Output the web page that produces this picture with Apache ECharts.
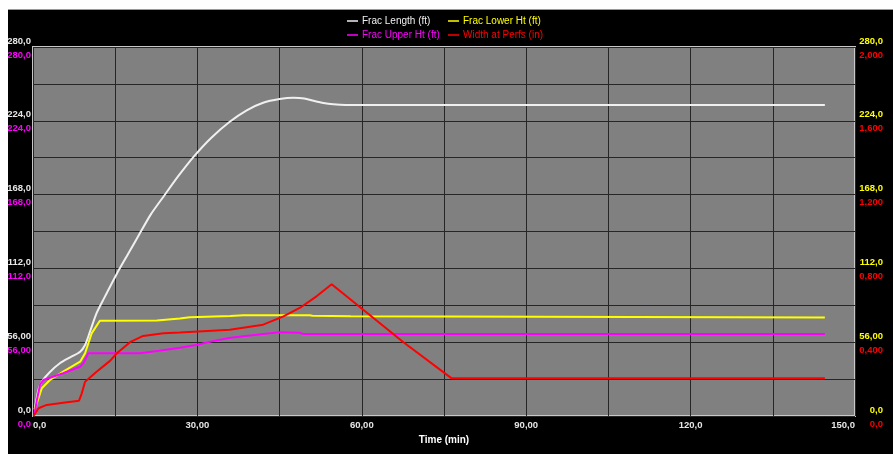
<!DOCTYPE html>
<html>
<head>
<meta charset="utf-8">
<script src="https://cdn.jsdelivr.net/npm/echarts@6/dist/echarts.min.js"></script>
<style>
html,body{margin:0;padding:0;background:#ffffff;width:893px;height:454px;overflow:hidden;}
#topline{position:absolute;left:8px;top:9px;width:885px;height:1px;background:#9a9a9a;}
#chart{position:absolute;left:8px;top:10px;width:885px;height:444px;background:#000000;}
</style>
</head>
<body>
<div id="topline"></div>
<div id="chart"></div>
<script>
// ---- Data ----
const seriesNames = ['Frac Length (ft)', 'Frac Lower Ht (ft)', 'Frac Upper Ht (ft)', 'Width at Perfs (in)'];

const fracLengthT = [0.3, 1.0, 1.6, 3.0, 4.9, 7.0, 8.6, 9.5, 10.4, 11.6, 12.8, 15.3, 17.5, 19.5, 21.5, 23.8, 26.5, 29.3, 32.5, 35.9, 39.0, 42.0, 45.0, 47.5, 49.5, 51.2, 53.0, 54.8, 57.0, 59.7, 144.5];
const fracLengthV = [5, 20, 26, 33, 40, 45, 48.8, 53.9, 64, 78, 88, 108, 124, 138.6, 153, 166.4, 182, 196.7, 211, 223.3, 232, 237.7, 240.5, 241.5, 241, 239.2, 237.5, 236.5, 236, 236, 236];

const fracLowerT = [0.3, 1.6, 3.1, 5.5, 8.6, 9.5, 10.7, 12.2, 22.6, 26.8, 28.6, 36.0, 38.4, 50.5, 51.0, 58.0, 58.3, 144.5];
const fracLowerV = [5, 21, 27.3, 33.6, 41.2, 47.6, 62.7, 72.3, 72.5, 74, 74.9, 75.9, 76.5, 76.5, 76, 75.6, 74.8, 74.8];

const fracUpperT = [0.3, 0.7, 1.3, 1.9, 5.5, 8.6, 9.2, 10.1, 19.5, 23.0, 26.8, 30.0, 33.0, 36.0, 42.0, 45.0, 48.7, 49.2, 144.5];
const fracUpperV = [2, 12, 24, 27.3, 32.4, 37.4, 40, 47.6, 47.6, 49.5, 51.8, 54, 57, 59.4, 62.2, 63.5, 63.2, 62.3, 62.3];

const widthT = [0.1, 1.0, 2.5, 5.5, 8.4, 8.9, 9.5, 11.6, 14.1, 15.3, 17.7, 20.1, 23.8, 26.8, 31.0, 35.9, 42.0, 45.7, 49.0, 51.8, 54.5, 67.6, 76.4, 144.5];
const widthV = [0.0, 0.042, 0.06, 0.072, 0.083, 0.123, 0.186, 0.24, 0.30, 0.34, 0.40, 0.434, 0.448, 0.452, 0.46, 0.468, 0.495, 0.54, 0.592, 0.65, 0.714, 0.40, 0.204, 0.204];

const xTickValues = [0, 30, 60, 90, 120, 150];
const xTickLabels = ['0,0', '30,00', '60,00', '90,00', '120,0', '150,0'];
const ftTickValues = [0, 56, 112, 168, 224, 280];
const ftTickLabels = ['0,0', '56,00', '112,0', '168,0', '224,0', '280,0'];
const widthTickValues = [0, 0.4, 0.8, 1.2, 1.6, 2.0];
const widthTickLabels = ['0,0', '0,400', '0,800', '1,200', '1,600', '2,000'];

// ---- Build ----
const pairs = (t, v) => t.map((x, i) => [x, v[i]]);
function tickFmt(values, labels) {
  return function (v) {
    for (let i = 0; i < values.length; i++) {
      if (Math.abs(values[i] - v) < 1e-6) return labels[i];
    }
    return '';
  };
}

const C_WHITE = '#f0f0f0', C_YELLOW = '#ffff00', C_MAGENTA = '#ff00ff', C_RED = '#ff0000';
const FONT = 'Liberation Sans, Arial, sans-serif';

function yAxis(pos, color, values, labels, max, interval, above, showSplit) {
  return {
    type: 'value', position: pos, min: 0, max: max, interval: interval,
    axisLine: { show: false }, axisTick: { show: false },
    splitLine: { show: showSplit, lineStyle: { color: '#262626', width: 1 } },
    axisLabel: {
      show: true, color: color, fontFamily: FONT, fontSize: 9.5, fontWeight: 'bold',
      formatter: tickFmt(values, labels),
      margin: pos === 'left' ? 2 : 28,
      align: 'right',
      verticalAlign: above ? 'bottom' : 'top',
      padding: above ? [0, 0, 1, 0] : [3, 0, 0, 0],
      showMinLabel: true, showMaxLabel: true
    }
  };
}

function legend(name, color, left, top) {
  return {
    data: [name], left: left, top: top, padding: 0, itemGap: 0,
    icon: 'rect', itemWidth: 11, itemHeight: 1.5,
    selectedMode: false,
    textStyle: { color: color, fontFamily: FONT, fontSize: 10, padding: [0, 0, 0, -1] }
  };
}

const chart = echarts.init(document.getElementById('chart'), null, { renderer: 'canvas' });
chart.setOption({
  backgroundColor: 'transparent',
  animation: false,
  legend: [
    legend(seriesNames[0], C_WHITE, 339, 6),
    legend(seriesNames[1], C_YELLOW, 440, 6),
    legend(seriesNames[2], C_MAGENTA, 339, 20),
    legend(seriesNames[3], C_RED, 440, 20)
  ],
  grid: {
    left: 25, right: 38, top: 37, bottom: 38,
    containLabel: false, outerBoundsMode: 'none',
    show: true, backgroundColor: '#808080', borderColor: '#c8c8c8', borderWidth: 2
  },
  xAxis: {
    type: 'value', min: 0, max: 150, interval: 15,
    name: 'Time (min)', nameLocation: 'middle', nameGap: 16,
    nameTextStyle: { color: '#ffffff', fontFamily: FONT, fontSize: 10, fontWeight: 'bold' },
    axisLine: { show: false }, axisTick: { show: false },
    splitLine: { show: true, lineStyle: { color: '#262626', width: 1 } },
    axisLabel: {
      color: '#e6e6e6', fontFamily: FONT, fontSize: 9.5, fontWeight: 'bold', margin: 4,
      formatter: tickFmt(xTickValues, xTickLabels),
      alignMinLabel: 'left', alignMaxLabel: 'right',
      showMinLabel: true, showMaxLabel: true
    }
  },
  yAxis: [
    yAxis('left', '#e6e6e6', ftTickValues, ftTickLabels, 280, 28, true, true),
    yAxis('left', C_MAGENTA, ftTickValues, ftTickLabels, 280, 28, false, false),
    yAxis('right', C_YELLOW, ftTickValues, ftTickLabels, 280, 28, true, false),
    yAxis('right', C_RED, widthTickValues, widthTickLabels, 2.0, 0.2, false, false)
  ],
  series: [
    { name: seriesNames[0], type: 'line', yAxisIndex: 0, data: pairs(fracLengthT, fracLengthV),
      showSymbol: false, smooth: 0.25, lineStyle: { color: C_WHITE, width: 2 }, itemStyle: { color: C_WHITE }, z: 3 },
    { name: seriesNames[1], type: 'line', yAxisIndex: 2, data: pairs(fracLowerT, fracLowerV),
      showSymbol: false, smooth: false, lineStyle: { color: C_YELLOW, width: 2 }, itemStyle: { color: C_YELLOW }, z: 4 },
    { name: seriesNames[2], type: 'line', yAxisIndex: 1, data: pairs(fracUpperT, fracUpperV),
      showSymbol: false, smooth: false, lineStyle: { color: C_MAGENTA, width: 2 }, itemStyle: { color: C_MAGENTA }, z: 5 },
    { name: seriesNames[3], type: 'line', yAxisIndex: 3, data: pairs(widthT, widthV),
      showSymbol: false, smooth: false, lineStyle: { color: C_RED, width: 2 }, itemStyle: { color: C_RED }, z: 6 }
  ]
});
</script>
</body>
</html>
